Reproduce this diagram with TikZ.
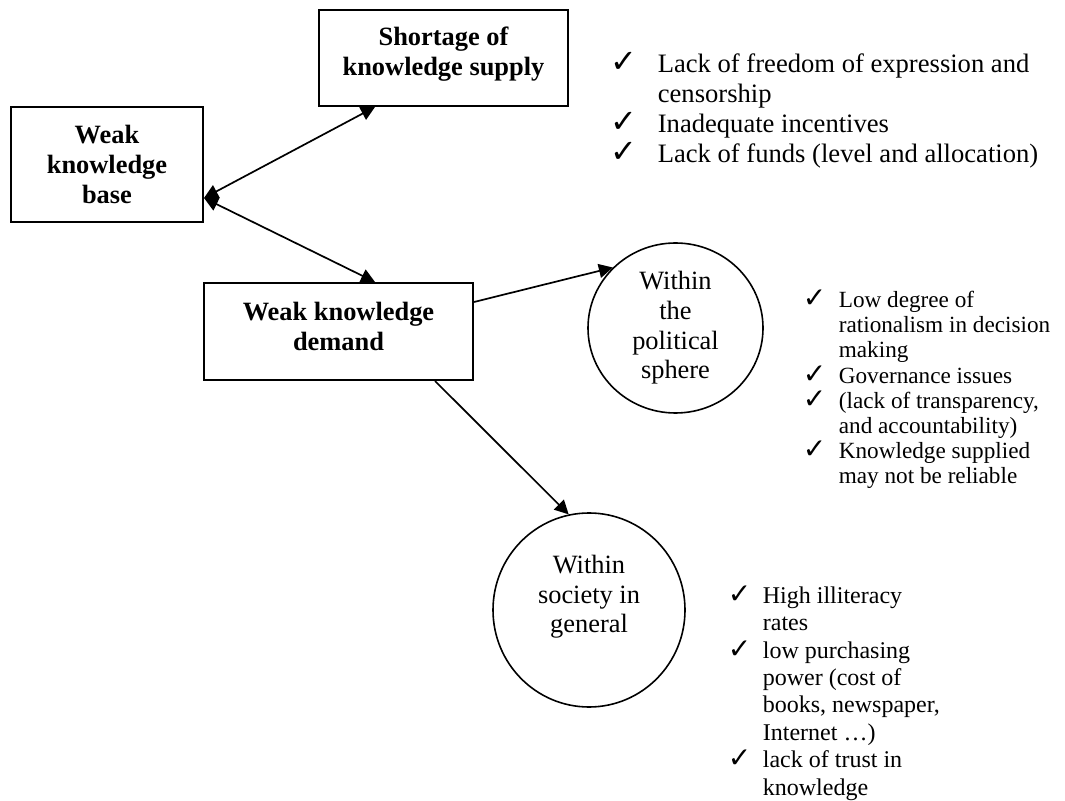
\documentclass[tikz,border=0pt]{standalone}
\usepackage{fontspec}
\setmainfont{Liberation Serif}
\newfontfamily\checkfont{DejaVu Sans}
\usepackage{tikz}
\usetikzlibrary{shapes.geometric}
\usetikzlibrary{arrows.meta}
\usetikzlibrary{positioning}
\tikzset{
% Define standard arrow tip
>={Triangle[length=7pt, width=7pt]}
}
% hanging check mark in front of a list line
\newcommand{\chkitem}[2]{\llap{\makebox[#1][l]{\checkfont\fontsize{#2}{#2}\selectfont ✓}}}

\begin{document}
\begin{tikzpicture}[x=0.5pt, y=-0.5pt, inner sep=0, line width=0.85pt,
    box/.style={rectangle, draw=black, line width=1pt, align=center,
      font=\fontsize{13.2}{15}\selectfont\bfseries},
    circ/.style={ellipse, draw=black, line width=0.8pt, align=center,
      font=\fontsize{13.2}{14.8}\selectfont},
    bullets/.style={anchor=base west, align=left}]
  \useasboundingbox (0,0) rectangle (1065,801);

  \node[box,
    minimum width = 96pt,
    minimum height = 57.5pt] (base) at (107, 164.5) {Weak\\knowledge\\base};
  \node[box,
    minimum width = 124.5pt,
    minimum height = 48pt] (supply) at (443.5, 58) {Shortage of\\knowledge supply\rule[-6.4pt]{0pt}{0pt}};
  \node[box,
    minimum width = 134.5pt,
    minimum height = 48.5pt] (demand) at (338.5, 331.5) {Weak knowledge\\demand\rule[-5.5pt]{0pt}{0pt}};

  \node[circ,
    minimum width = 87.5pt,
    minimum height = 85pt] (pol) at (675.5, 328) {Within\\the\\political\\sphere};
  \node[circ,
    minimum width = 96pt,
    minimum height = 97pt] (soc) at (589, 610) {Within\\society in\\general\rule[-16pt]{0pt}{0pt}};

  % ports on the boxes
  \coordinate (bport) at ([yshift=-16.75pt]base.east);
  \coordinate (sport) at ([xshift=-34.25pt]supply.south);
  \coordinate (dport) at ([xshift=18.25pt]demand.north);
  \coordinate (rport) at ([yshift=14.75pt]demand.east);
  \coordinate (lport) at ([xshift=48.25pt]demand.south);

  \draw[<->] (bport) -- (sport);
  \draw[<->] (bport) -- (dport);
  \draw[->] (rport) -- (pol.136);
  \draw[->] (lport) -- (soc.102);

  % lists, placed by the baseline of their last line
  \node[bullets, font=\fontsize{13.3}{15}\selectfont] (supplylist) at (657, 163)
    {\chkitem{23.5pt}{16}Lack of freedom of expression and\\
     censorship\\
     \chkitem{23.5pt}{16}Inadequate incentives\\
     \chkitem{23.5pt}{16}Lack of funds (level and allocation)};

  \node[bullets, font=\fontsize{11.6}{12.6}\selectfont] (pollist) at (838, 484)
    {\chkitem{18pt}{14}Low degree of\\
     rationalism in decision\\
     making\\
     \chkitem{18pt}{14}Governance issues\\
     \chkitem{18pt}{14}(lack of transparency,\\
     and accountability)\\
     \chkitem{18pt}{14}Knowledge supplied\\
     may not be reliable};

  \node[bullets, font=\fontsize{12}{13.7}\selectfont] (soclist) at (762, 795)
    {\chkitem{17.5pt}{14}High illiteracy\\
     rates\\
     \chkitem{17.5pt}{14}low purchasing\\
     power (cost of\\
     books, newspaper,\\
     Internet …)\\
     \chkitem{17.5pt}{14}lack of trust in\\
     knowledge};
\end{tikzpicture}
\end{document}
